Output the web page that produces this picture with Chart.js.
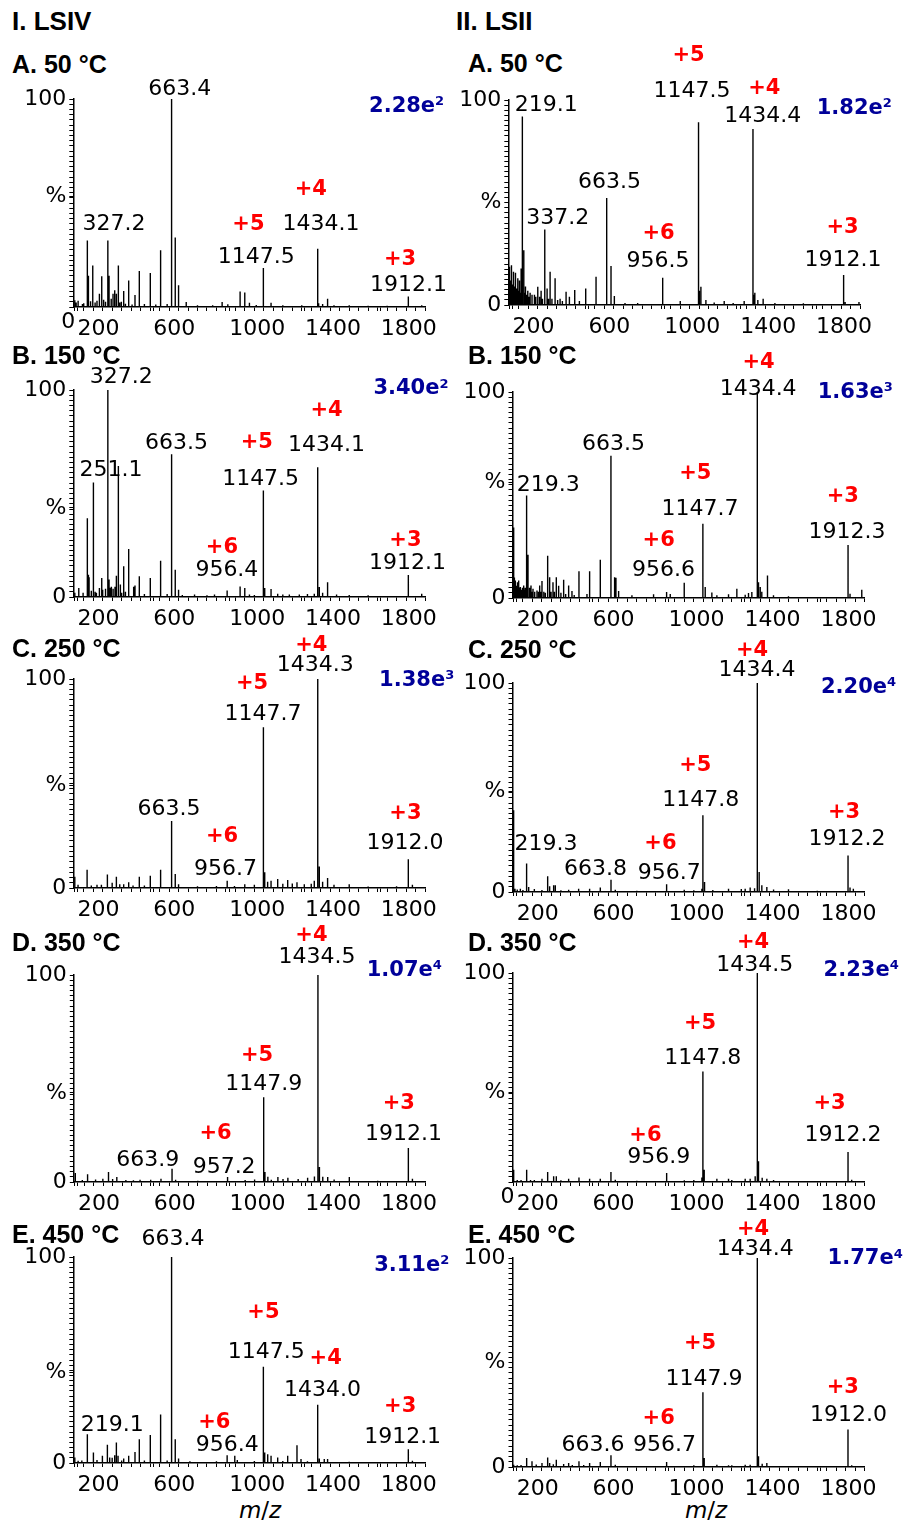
<!DOCTYPE html>
<html>
<head>
<meta charset="utf-8">
<script src="https://cdn.jsdelivr.net/npm/chart.js@4.4.1/dist/chart.umd.min.js"></script>
<style>
  body { margin: 0; background: #fff; width: 906px; height: 1521px; position: relative; overflow: hidden;
         font-family: "Liberation Sans", Arial, sans-serif; color: #000; }
  canvas { position: absolute; }
  .hdr { position: absolute; font-weight: bold; font-size: 26px; line-height: 30px; white-space: nowrap; }
  .ttl { position: absolute; font-weight: bold; font-size: 25px; line-height: 30px; white-space: nowrap; }
  .mz  { position: absolute; font-family: "DejaVu Sans"; font-size: 23px; line-height: 26px; width: 100px; text-align: center; }
</style>
</head>
<body>
<div class="hdr" style="left:12px;top:6px">I. LSIV</div>
<div class="hdr" style="left:456px;top:6px">II. LSII</div>
<div class="mz" style="left:210px;top:1497px"><i>m</i>/<i>z</i></div>
<div class="mz" style="left:656px;top:1497px"><i>m</i>/<i>z</i></div>
<script>
const panelTitles = ['A. 50 °C', 'B. 150 °C', 'C. 250 °C', 'D. 350 °C', 'E. 450 °C'];
const tickValues = [200, 600, 1000, 1400, 1800];
const tickLabels = ['200', '600', '1000', '1400', '1800'];

// peaks as [m/z, relative intensity %]
const lsivA = [[152.9,3.2],[170.4,3],[193.2,1.5],[219.1,32],[224.8,15],[247.6,20],[282.7,6.4],[295,14.8],[327.2,32],[333.6,15],
  [354.6,6.4],[363.4,8],[372.2,6.4],[382.7,20],[398.4,2.5],[410.8,7.7],[437.1,12.8],[470.4,5.8],[493.2,17.3],[551.1,16.4],
  [605.5,27.3],[663.4,100],[682.7,33.4],[700.2,10.4],[740.6,2.4],[930,2.4],[960,1.3],[1024.8,7.5],[1049.4,7],[1074,2],
  [1147.5,18.8],[1188,2],[1434.1,28],[1439,1.8],[1486.2,4],[1600.3,0.8],[1912.1,5.1],[1982.7,0.8],
  [160,2.2],[200,1.8],[236,2.8],[260,2.2],[270,3],[305,3.5],[315,2.5],[345,4],[390,2.2],[420,1.6],[455,1.2],[520,1.5],
  [580,1.2],[640,1.5],[800,0.8],[880,0.8],[1110,1],[1250,0.8],[1350,0.8],[1460,1.5],[1520,0.8],[1700,0.6],[1800,0.6]];
const lsivB = [[152.9,2],[173.9,4.3],[196.7,2],[219.1,38.1],[224.8,10.8],[228.3,9.5],[251.1,55.3],[266.9,2],[282.7,4.3],[295,9.2],
  [327.2,100],[333.6,8.4],[345.9,5],[372.2,10.3],[382.7,63.3],[393.3,6],[410.8,14.8],[437.1,23.2],[463.4,5],[470.4,5.5],
  [493.2,10],[551.1,9.2],[605.5,17.5],[663.5,69],[682.7,13.2],[700.2,3.5],[784.5,1.2],[889.7,1.2],[956.4,3.2],[1024.8,5.1],
  [1049.4,4.3],[1074,1.2],[1147.5,51.4],[1154.6,4.3],[1188,3.9],[1223,1.6],[1284.5,1.2],[1337,1.2],[1416,1.6],[1434.1,62.7],
  [1442.4,4.8],[1486.2,7.1],[1533.6,1.2],[1600.3,1],[1912.1,10.6],[1982.7,1.6],
  [240,3],[260,2.5],[300,3.5],[315,4],[340,4.5],[355,4],[365,5],[400,2],[420,2.5],[520,1.5],[640,1.5],[720,1],[850,0.8],
  [1100,1],[1250,1.2],[1380,1.5],[1460,2],[1700,0.8]];
const lsivC = [[152.9,5.4],[217.8,8.7],[293.2,1.6],[324.8,6.4],[372.2,5.4],[410.8,1.8],[437.1,2.7],[493.2,5.4],[551.1,5.9],[605.5,8.7],
  [663.5,32],[682.7,6.7],[700.2,1.8],[956.7,3.5],[995,1],[1049.4,1.8],[1147.7,76.9],[1154.6,7.5],[1188,3.5],[1223,4.3],
  [1275.7,3.8],[1324.8,2.7],[1363.4,1.8],[1416,3.5],[1434.3,100],[1442.4,10.3],[1486.2,4.8],[1600.3,1.8],[1912.0,13.8],[1933.6,1.6],
  [170,1.5],[240,1.2],[270,1.5],[350,2.5],[390,1.8],[460,1.2],[520,1.2],[800,0.8],[900,1],[1100,1.5],[1170,3],[1250,2],
  [1300,2.2],[1400,2],[1460,3],[1520,1.5],[1700,0.7],[1850,0.8]];
const lsivD = [[152.9,4.3],[217.8,3.7],[298.5,1.6],[328.3,4.8],[372.2,2.4],[495,1.1],[551.1,1.1],[605.5,1.6],[663.9,6.4],[682.7,1.1],
  [957.2,2.4],[1147.9,40.9],[1154.6,4.8],[1188,1.1],[1223,2.4],[1275.7,2],[1416,2.7],[1434.5,100],[1442.4,7.2],[1486.2,2.4],
  [1600.3,2.4],[1912.1,16.4],[1933.6,1.6],
  [190,1],[260,1.2],[350,1.5],[420,1],[460,0.8],[800,0.6],[1050,1],[1100,1.2],[1170,2.5],[1250,1.5],[1330,1.5],[1380,2],
  [1460,2.5],[1520,1.2],[1750,0.6]];
const lsivE = [[152.9,2.7],[170.4,1.1],[219.1,13.9],[251.1,5.1],[298.5,3.5],[324.8,8.8],[337.1,2.7],[363.4,3.8],[372.2,9.9],[381,3.5],
  [410.8,2.2],[437.1,3.5],[470.4,5.4],[493.2,11.5],[551.1,13.6],[605.5,23.5],[663.4,100],[682.7,11.5],[700.2,2.2],[956.4,3.8],
  [996.7,3.5],[1147.5,46.7],[1154.6,5.1],[1170.4,4.3],[1188,3.5],[1223,2.7],[1275.7,3.5],[1324.8,8.6],[1346,1.9],[1434.0,28.3],
  [1442.4,2.2],[1468.7,1.9],[1486.2,1.9],[1912.1,6.7],[1933.6,1.1],
  [190,1.2],[270,1.5],[350,2.5],[400,1.2],[520,1.2],[640,1.2],[760,0.8],[900,0.8],[1010,1.5],[1100,1],[1250,1],[1380,0.8],
  [1600,0.6],[1750,0.5]];

const lsiiA = [[151.2,18.6],[156,12],[161.7,19.4],[167,10],[172.3,16.2],[177,9],[182.8,15.7],[188,8],[195.1,13],[199,7],
  [203.9,12],[208,6],[212.6,17.8],[219.1,91.9],[226.7,26.7],[231,6],[235.5,9],[241,5],[247.7,7],[253,4],[260,6],[270,5],
  [282.8,5],[290,4],[300.3,8.9],[310,4],[317.9,7],[325,3],[337.2,36.8],[349.5,8],[357,3],[365.3,16.2],[375,3],[391.6,13],
  [405,2.5],[417.9,3],[430,2],[449.5,6.5],[467,4],[495.1,7.3],[519.6,2],[553,8.1],[607.4,13.8],[663.5,52.2],[686.3,19],
  [703.9,4.4],[760,1],[826.7,1],[956.5,13.3],[960,3],[1051.2,2],[1147.5,89.1],[1152,7],[1160,8.9],[1186.3,2.5],[1230,1.2],
  [1282.8,2],[1330,1],[1388,2],[1434.4,85.9],[1438,5],[1444.2,6],[1460,2.5],[1488,3],[1550,1],[1700,0.8],[1912.1,14.6],
  [1920,1.5],[1993,1.5]];
const lsiiB = [[151.2,34.2],[155,10],[160,8.5],[164,6],[168.8,7.7],[173,5],[177.5,8.5],[182,5],[186.3,5.3],[191,4],[195.1,4.5],
  [199,5],[203.9,6.1],[208,4],[212,5],[219.3,49.8],[226.6,21],[232,4],[237,5],[242.4,6.1],[248,3],[253,4.5],[262,3],[274,3.7],
  [282,3],[288.1,6.1],[294,3],[300.3,8.2],[310,3],[318,2.5],[330.2,20.5],[340.7,10.1],[348,3],[358.2,7.7],[366,3],[375.8,10.1],
  [388.1,6],[400,2.5],[414.4,8.8],[425,2],[440.7,6.1],[458.2,3.4],[470,1.5],[495.1,13],[537.2,2],[551.2,13],[607.4,18.6],
  [663.5,69],[682.8,10.1],[689.8,9.8],[703.9,3.4],[774,1.3],[888,1.8],[956.6,2.9],[975.8,2],[1049.5,7.4],[1147.7,36.1],
  [1160,5.3],[1195,2.7],[1221.4,1.3],[1282.8,1.8],[1326.6,4.5],[1370.5,1.6],[1388,2.4],[1405.6,2.9],[1434.4,100],[1440.7,7.7],
  [1449.8,5.3],[1458,3],[1488,10.9],[1519.6,1.3],[1598.6,0.8],[1912.3,25.7],[1922.7,2.1],[1984.6,4]];
const lsiiC = [[151,39.1],[158,1.6],[186.3,1.6],[219.3,13.6],[230.2,2.4],[330.2,7.5],[340.7,2.7],[361.7,3.2],[370.5,3.2],[440.7,1.1],
  [493.3,1.6],[551.2,1.6],[607.4,2.1],[663.8,5.9],[686.3,1.1],[956.7,3.7],[1049.5,1.1],[1142.5,1.6],[1147.8,36.7],[1156.5,4.8],
  [1282.8,1.6],[1370.5,1.6],[1396.8,2.1],[1434.4,100],[1444.2,9.6],[1458.2,3.2],[1484.6,2.4],[1598.6,1.3],[1912.2,17.5],
  [1922.7,2.1],[1940.2,1.6],
  [170,1.2],[200,1],[260,1.4],[300,1],[400,0.8],[800,0.6],[1100,0.8],[1200,1],[1350,1.4],[1420,1.8],[1520,1.2],[1750,0.6]];
const lsiiD = [[151.2,5.9],[170,1],[219.6,5.9],[260,1],[300.3,1.6],[330.2,4.8],[361.7,2.7],[375.8,2.7],[440.7,1.6],[495.1,2.2],
  [551.2,1.6],[607.4,1.6],[663.5,4.8],[686.3,1.1],[956.9,4.3],[1142.5,2.2],[1147.8,52.9],[1154.7,5.9],[1221.4,1.6],[1282.8,1.6],
  [1370.5,1.6],[1396.8,1.6],[1423.2,2.7],[1434.5,100],[1440.7,9.9],[1484.6,1.6],[1912.2,14.4],[1931.5,1.1],
  [190,1],[240,0.9],[400,0.8],[800,0.6],[1050,0.8],[1100,1],[1300,1],[1460,2],[1520,1],[1700,0.5]];
const lsiiE = [[151.2,1.1],[170,0.8],[219.6,4.3],[247.7,2.7],[300.3,1.9],[330.2,4.6],[340.7,1.9],[375.8,3.5],[414.4,1.4],[440.7,1.9],
  [495.1,2.7],[551.2,1.9],[607.4,2.4],[663.6,5.6],[686.3,1.1],[956.7,2.4],[1147.9,35.8],[1154.7,4.3],[1221.4,1.1],[1282.8,0.8],
  [1370.5,1.1],[1396.8,1.1],[1434.4,100],[1440.7,5.1],[1484.6,1.9],[1912.0,17.9],[1931.5,0.8],
  [190,1],[270,1.2],[360,1.3],[460,1],[520,1],[800,0.5],[1100,0.8],[1300,0.8],[1460,1.5],[1700,0.5]];

// base-peak intensities printed top right
const lsivScale = [['2.28e', '2'], ['3.40e', '2'], ['1.38e', '3'], ['1.07e', '4'], ['3.11e', '2']];
const lsiiScale = [['1.82e', '2'], ['1.63e', '3'], ['2.20e', '4'], ['2.23e', '4'], ['1.77e', '4']];

// peak labels: [text, m/z, height %, 'n' number | 'z' charge]
const lsivLabels = [
  [['663.4',706.6,105.6,'n'],['327.2',360,41,'n'],['+5',1068.7,40.5,'z'],['1147.5',1110,25,'n'],['+4',1397.6,57.5,'z'],
   ['1434.1',1452,41,'n'],['+3',1868.7,23.9,'z'],['1912.1',1913,11.7,'n']],
  [['327.2',397.6,107.2,'n'],['251.1',343.4,62.2,'n'],['663.5',689.7,75.4,'n'],['+5',1113,75.8,'z'],['1147.5',1133,58.1,'n'],
   ['+4',1481,91.2,'z'],['1434.1',1481,74.2,'n'],['+6',928.7,25.1,'z'],['956.4',955,13.9,'n'],['+3',1897,28.4,'z'],['1912.1',1908,17.5,'n']],
  [['+4',1400,117,'z'],['1434.3',1421,107.5,'n'],['+5',1088,98.7,'z'],['1147.7',1145,84.4,'n'],['663.5',650,38.9,'n'],
   ['+6',930,25.4,'z'],['956.7',948,10.2,'n'],['+3',1897,36.5,'z'],['1912.0',1895,22.6,'n']],
  [['+4',1400,120.2,'z'],['1434.5',1430,109.7,'n'],['+5',1113,62.2,'z'],['1147.9',1148,48.5,'n'],['663.9',535.5,11.4,'n'],
   ['+6',893.4,24.3,'z'],['957.2',939,8.2,'n'],['+3',1862,38.8,'z'],['1912.1',1887,24.3,'n']],
  [['663.4',671,109.9,'n'],['+5',1148,74.3,'z'],['1147.5',1163,54.9,'n'],['+4',1476,51.6,'z'],['1434.0',1459,36.3,'n'],
   ['219.1',350,19.3,'n'],['+6',889,20.5,'z'],['956.4',956.6,9.6,'n'],['+3',1869,28.2,'z'],['1912.1',1882,13.6,'n']]
];
const lsivScalePos = [[2101,97.6],[2124,101.6],[2154,100.3],[2089,103.2],[2128,96.9]];
const lsiiLabels = [
  [['+5',1095,122.8,'z'],['1147.5',1113,105.2,'n'],['+4',1494.5,106.8,'z'],['1434.4',1485.5,93.2,'n'],['219.1',345,98.4,'n'],
   ['663.5',678.7,61,'n'],['337.2',405,43.4,'n'],['+6',937,35.8,'z'],['956.5',934.5,22.3,'n'],['+3',1906.6,39,'z'],['1912.1',1909,22.8,'n']],
  [['+4',1441,115.5,'z'],['1434.4',1438.7,102.6,'n'],['663.5',676.6,75.9,'n'],['219.3',333,56,'n'],['+5',1108,61.3,'z'],
   ['1147.7',1133,44.3,'n'],['+6',915,29,'z'],['956.6',939.7,14.4,'n'],['+3',1884.5,50.5,'z'],['1912.3',1906.6,33,'n']],
  [['+4',1406.6,116.6,'z'],['1434.4',1433,107,'n'],['+5',1108,61.6,'z'],['1147.8',1137,44.8,'n'],['219.3',321,24,'n'],
   ['663.8',581.8,11.8,'n'],['+6',924,24,'z'],['956.7',970,10.2,'n'],['+3',1891,39.2,'z'],['1912.2',1906.6,26.5,'n']],
  [['+4',1411.8,115.8,'z'],['1434.5',1421,104.6,'n'],['+5',1133,76.7,'z'],['1147.8',1147.6,60.3,'n'],['+6',845,23.3,'z'],
   ['956.9',915,12.9,'n'],['+3',1814.5,38.4,'z'],['1912.2',1886,23.3,'n']],
  [['+4',1412,114.6,'z'],['1434.4',1424,105,'n'],['+5',1133,60,'z'],['1147.9',1153,43.2,'n'],['+6',915,24.1,'z'],
   ['663.6',568.7,11.3,'n'],['956.7',946,11.3,'n'],['+3',1884.5,39.2,'z'],['1912.0',1915,25.7,'n']]
];
const lsiiScalePos = [[2166,97],[2148,101],[2165,99],[2179,102.2],[2200,100.6]];

// where "%" sits on each y axis
const lsivPct = [53, 43, 49, 43, 44];
const lsiiPct = [50, 56, 48, 43, 50];

const MZ_MIN = 145, MZ_MAX = 2000;
const TICK_SHIFT = -33;   // printed tick labels start a bit left of the true value
const HEAD = 74, FOOT = 46;
const RED = '#ff0000', BLUE = '#000099';

const columns = [
  { left: 0, width: 460, titleX: 12, peaks: [lsivA, lsivB, lsivC, lsivD, lsivE], labels: lsivLabels,
    scale: lsivScale, scalePos: lsivScalePos, pct: lsivPct, lowZero: [true, false, false, false, false],
    plotLeft: [73.3, 73.3, 73.3, 73.8, 73.3], plotRight: [425, 425, 425, 425, 425],
    top: [99, 390, 679, 975, 1257], base: [307, 597, 888, 1182, 1463],
    titleY: [48.6, 340.3, 632.6, 927, 1218.6] },
  { left: 453, width: 453, titleX: 468, peaks: [lsiiA, lsiiB, lsiiC, lsiiD, lsiiE], labels: lsiiLabels,
    scale: lsiiScale, scalePos: lsiiScalePos, pct: lsiiPct, lowZero: [false, false, false, true, false],
    plotLeft: [508.3, 512.5, 512.5, 512.5, 512.5], plotRight: [860.3, 864.7, 864.7, 864.7, 864.7],
    top: [100, 392, 683, 973, 1258], base: [305, 598, 892, 1182, 1467],
    titleY: [48.3, 340.3, 633.6, 927, 1218.6] }
];

function spikes(peaks) {
  const pts = peaks.slice().sort((a, b) => a[0] - b[0]);
  const out = [{x: MZ_MIN, y: 0}];
  pts.forEach(p => {
    out.push({x: p[0], y: 0}, {x: p[0], y: p[1]}, {x: p[0], y: 0});
  });
  out.push({x: MZ_MAX, y: 0});
  return out;
}

function labelPlugin(items, scaleTxt, scalePos, lowZero) {
  return {
    id: 'peakLabels',
    afterDatasetsDraw(chart) {
      const {ctx, scales: {x, y}} = chart;
      ctx.save();
      ctx.textBaseline = 'alphabetic';
      items.forEach(([txt, m, p, kind]) => {
        const size = kind === 'z' ? 21 : 22;
        ctx.font = (kind === 'z' ? 'bold ' : '') + size + 'px "DejaVu Sans"';
        ctx.fillStyle = kind === 'z' ? RED : '#000';
        ctx.textAlign = 'center';
        ctx.fillText(txt, x.getPixelForValue(m), y.getPixelForValue(p) + size * 0.36);
      });
      const xr = x.getPixelForValue(scalePos[0]);
      const yc = y.getPixelForValue(scalePos[1]);
      ctx.fillStyle = BLUE;
      ctx.textAlign = 'right';
      ctx.font = 'bold 13px "DejaVu Sans"';
      const sw = ctx.measureText(scaleTxt[1]).width;
      ctx.fillText(scaleTxt[1], xr, yc + 1);
      ctx.font = 'bold 21px "DejaVu Sans"';
      ctx.fillText(scaleTxt[0], xr - sw, yc + 21 * 0.36);
      // the "0" that sits low, touching the m/z axis labels
      if (lowZero) {
        ctx.fillStyle = '#000';
        ctx.font = '22px "DejaVu Sans"';
        ctx.fillText('0', chart.chartArea.left + 2, chart.chartArea.bottom + 13 + 8);
      }
      ctx.restore();
    }
  };
}

// x ticks: small marks every 50, plus the printed labels
const xLabelAt = new Map();
tickValues.forEach((v, i) => xLabelAt.set(v + TICK_SHIFT, tickLabels[i]));
const xTicks = [];
for (let v = 150; v <= MZ_MAX; v += 50) xTicks.push(v);
xLabelAt.forEach((t, v) => xTicks.push(v));
xTicks.sort((a, b) => a - b);

columns.forEach(col => {
  for (let r = 0; r < 5; r++) {
    const t = document.createElement('div');
    t.className = 'ttl';
    t.style.left = col.titleX + 'px';
    t.style.top = col.titleY[r] + 'px';
    t.textContent = panelTitles[r];
    document.body.appendChild(t);

    const h = col.base[r] - col.top[r] + HEAD + FOOT;
    const cv = document.createElement('canvas');
    cv.width = col.width;
    cv.height = h;
    cv.style.left = col.left + 'px';
    cv.style.top = (col.top[r] - HEAD) + 'px';
    cv.style.width = col.width + 'px';
    cv.style.height = h + 'px';
    document.body.appendChild(cv);

    const pct = col.pct[r];
    const yTicks = [];
    for (let v = 0; v <= 100; v += 2.5) yTicks.push(v);
    if (!yTicks.includes(pct)) yTicks.push(pct);
    yTicks.sort((a, b) => a - b);
    const zeroLabel = col.lowZero[r] ? '' : '0';
    const yWidth = col.plotLeft[r] - col.left;
    const padRight = col.width - (col.plotRight[r] - col.left);

    new Chart(cv, {
      type: 'line',
      data: {
        datasets: [{
          data: spikes(col.peaks[r]),
          borderColor: '#000',
          borderWidth: 1.4,
          borderJoinStyle: 'bevel',
          pointRadius: 0,
          tension: 0,
          fill: false
        }]
      },
      options: {
        responsive: false,
        animation: false,
        events: [],
        layout: { padding: { top: HEAD, right: padRight, left: 0, bottom: 0 } },
        plugins: { legend: { display: false }, tooltip: { enabled: false } },
        scales: {
          x: {
            type: 'linear', min: MZ_MIN, max: MZ_MAX,
            afterBuildTicks: s => { s.ticks = xTicks.map(v => ({ value: v })); },
            afterFit: s => { s.height = FOOT; },
            ticks: {
              autoSkip: false, maxRotation: 0, minRotation: 0, align: 'start', padding: 5, color: '#000',
              font: { family: 'DejaVu Sans', size: 22 },
              callback: v => xLabelAt.get(v) || ''
            },
            grid: { drawOnChartArea: false, drawTicks: true, tickLength: 4, tickColor: '#000', tickWidth: 1 },
            border: { display: true, color: '#000', width: 1.5 }
          },
          y: {
            type: 'linear', min: 0, max: 100,
            afterBuildTicks: s => { s.ticks = yTicks.map(v => ({ value: v })); },
            afterFit: s => { s.width = yWidth; },
            ticks: {
              autoSkip: false, padding: 3, color: '#000',
              font: { family: 'DejaVu Sans', size: 22 },
              callback: v => v === 0 ? zeroLabel : v === 100 ? '100' : v === pct ? '%' : ''
            },
            grid: { drawOnChartArea: false, drawTicks: true, tickLength: 4, tickColor: '#000', tickWidth: 1 },
            border: { display: true, color: '#000', width: 1.5 }
          }
        }
      },
      plugins: [labelPlugin(col.labels[r], col.scale[r], col.scalePos[r], col.lowZero[r])]
    });
  }
});
</script>
</body>
</html>
